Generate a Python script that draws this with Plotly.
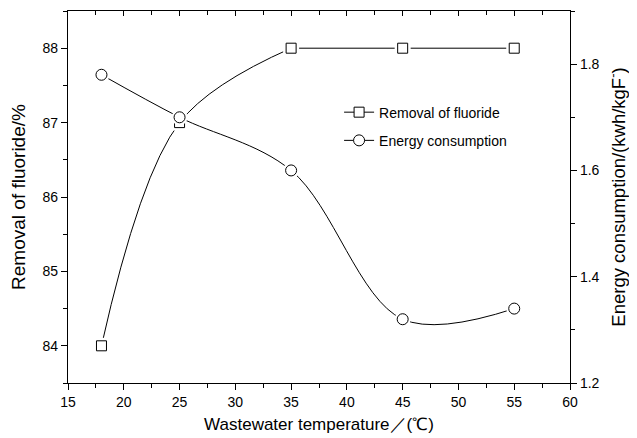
import plotly.graph_objects as go

# ---- data ----
temperature = [18, 25, 35, 45, 55]
removal_fluoride = [84, 87, 88, 88, 88]
energy_consumption = [1.78, 1.70, 1.60, 1.32, 1.34]

x_ticks = [15, 20, 25, 30, 35, 40, 45, 50, 55, 60]
left_ticks = [84, 85, 86, 87, 88]
right_ticks = [1.2, 1.4, 1.6, 1.8]

FONT = "Arial, 'Liberation Sans', sans-serif"


def isolated(v):
    out = []
    for i, a in enumerate(v):
        if i:
            out.append(None)
        out.append(a)
    return out


fig = go.Figure()

# curves
fig.add_trace(go.Scatter(x=temperature[:3], y=removal_fluoride[:3], mode="lines",
                         line=dict(shape="spline", smoothing=1, color="black", width=1),
                         showlegend=False, hoverinfo="skip"))
fig.add_trace(go.Scatter(x=temperature[2:], y=removal_fluoride[2:], mode="lines",
                         line=dict(color="black", width=1),
                         showlegend=False, hoverinfo="skip"))
fig.add_trace(go.Scatter(x=temperature, y=energy_consumption, mode="lines", yaxis="y2",
                         line=dict(shape="spline", smoothing=1, color="black", width=1),
                         showlegend=False, hoverinfo="skip"))

# white halos (line gap around markers) + markers
fig.add_trace(go.Scatter(x=temperature, y=removal_fluoride, mode="markers",
                         marker=dict(symbol="square", size=16, color="white", line=dict(width=0)),
                         showlegend=False, hoverinfo="skip"))
fig.add_trace(go.Scatter(x=isolated(temperature), y=isolated(removal_fluoride),
                         mode="lines+markers", connectgaps=False, name="Removal of fluoride",
                         line=dict(color="black", width=1),
                         marker=dict(symbol="square", size=10, color="white",
                                     line=dict(color="black", width=1)),
                         legendgroup="a"))
fig.add_trace(go.Scatter(x=temperature, y=energy_consumption, mode="markers", yaxis="y2",
                         marker=dict(symbol="circle", size=16, color="white", line=dict(width=0)),
                         showlegend=False, hoverinfo="skip"))
fig.add_trace(go.Scatter(x=isolated(temperature), y=isolated(energy_consumption),
                         mode="lines+markers", connectgaps=False, yaxis="y2",
                         name="Energy consumption",
                         line=dict(color="black", width=1),
                         marker=dict(symbol="circle", size=11, color="white",
                                     line=dict(color="black", width=1)),
                         legendgroup="b"))
# invisible trace to carry the top axis
fig.add_trace(go.Scatter(x=[x_ticks[0], x_ticks[-1]], y=[left_ticks[0], left_ticks[-1]],
                         xaxis="x2", mode="markers", marker=dict(opacity=0),
                         showlegend=False, hoverinfo="skip"))

axis_common = dict(showgrid=False, zeroline=False, showline=True, linecolor="black",
                   linewidth=1.2, tickcolor="black", tickwidth=1.2, automargin=False,
                   tickfont=dict(family=FONT, size=14, color="black"))

# the page body has an 8px margin, so the figure is offset by 8px
fig.update_layout(
    width=629, height=430,
    margin=dict(l=60, r=67, t=3, b=55),
    paper_bgcolor="white", plot_bgcolor="white",
    font=dict(family=FONT, color="black"),
    xaxis=dict(range=[15, 60], tickvals=x_ticks, ticks="outside", ticklen=6,
               minor=dict(dtick=2.5, tick0=15, ticks="outside", ticklen=4,
                          tickcolor="black", tickwidth=1.2),
               mirror=True,
               title=dict(text="Wastewater temperature／(℃)",
                          font=dict(family=FONT, size=17), standoff=9),
               **axis_common),
    xaxis2=dict(range=[15, 60], overlaying="x", side="top", anchor="y",
                tickvals=x_ticks, ticks="inside", ticklen=5, showticklabels=False,
                showgrid=False, zeroline=False, showline=False, automargin=False,
                tickcolor="black", tickwidth=1.2,
                minor=dict(dtick=2.5, tick0=15, ticks="inside", ticklen=4,
                           tickcolor="black", tickwidth=1.2)),
    yaxis=dict(range=[83.5, 88.5], tickvals=left_ticks, ticks="outside", ticklen=6,
               minor=dict(dtick=0.5, tick0=83.5, ticks="outside", ticklen=4,
                          tickcolor="black", tickwidth=1.2),
               title=dict(text="Removal of fluoride/%",
                          font=dict(family=FONT, size=19), standoff=11),
               **axis_common),
    yaxis2=dict(range=[1.2, 1.9], overlaying="y", side="right", anchor="x",
                tickvals=right_ticks, ticks="outside", ticklen=6,
                minor=dict(dtick=0.1, tick0=1.2, ticks="outside", ticklen=4,
                           tickcolor="black", tickwidth=1.2),
                title=dict(text="Energy consumption/(kwh/kgF<sup>-</sup>)",
                           font=dict(family=FONT, size=18.5), standoff=13),
                **axis_common),
    legend=dict(x=0.54, y=0.77, xanchor="left", yanchor="top",
                bgcolor="rgba(0,0,0,0)", borderwidth=0,
                font=dict(family=FONT, size=14, color="black"),
                traceorder="grouped", tracegroupgap=7),
)

fig.write_html("out.html")
